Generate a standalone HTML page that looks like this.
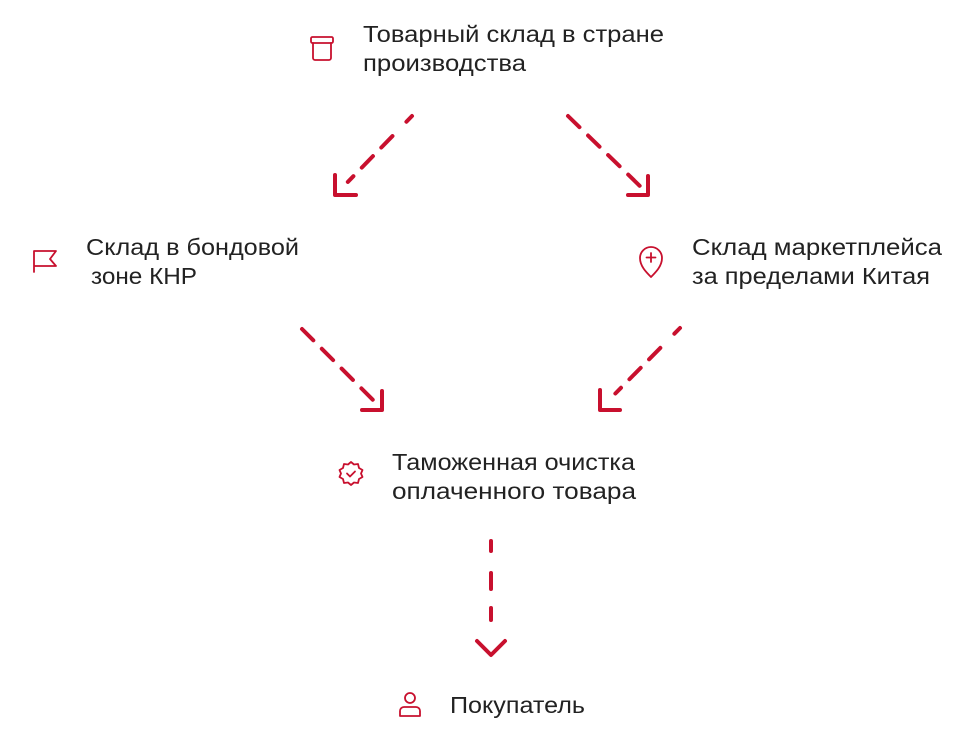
<!DOCTYPE html>
<html><head><meta charset="utf-8"><style>
html,body{margin:0;padding:0;background:#fff;}
svg{display:block}
text{font-family:"Liberation Sans","DejaVu Sans",sans-serif;font-size:23px;fill:#222;}
</style></head><body>
<svg width="974" height="740" viewBox="0 0 974 740" xmlns="http://www.w3.org/2000/svg">
<g stroke="#c8102e" stroke-width="4" fill="none" stroke-linecap="round" stroke-linejoin="round">
  <line x1="412" y1="116" x2="339" y2="191" stroke-dasharray="8 20 16 12 16 12"/>
  <polyline points="335,175 335,195 356,195"/>
  <line x1="568" y1="116" x2="644" y2="190" stroke-dasharray="16 12"/>
  <polyline points="648,176 648,195 628,195"/>
  <line x1="302" y1="329" x2="378" y2="405" stroke-dasharray="16 12"/>
  <polyline points="382,391 382,410 362,410"/>
  <line x1="680" y1="328" x2="604" y2="405" stroke-dasharray="8 20 16 12 16 12"/>
  <polyline points="600,390 600,410 620,410"/>
  <line x1="491" y1="541" x2="491" y2="626" stroke-dasharray="10 22 16 19 12 100"/>
  <polyline points="477,641 491,655 505,641"/>
</g>
<g stroke="#c8102e" stroke-width="1.8" fill="none" stroke-linecap="round" stroke-linejoin="round">
  <rect x="311" y="37" width="22" height="6" rx="1.5"/>
  <path d="M313,43 V58 a2,2 0 0 0 2,2 H329 a2,2 0 0 0 2,-2 V43"/>
  <path d="M34,272 V251 H56 L50,259 L56,266 H34"/>
  <path d="M651,277 C646,272 640,266 640,258 a11,11 0 0 1 22,0 C662,266 656,272 651,277 Z"/>
  <path d="M651,253 v9 M646.5,257.5 h9"/>
  <path d="M351,462 l3,2.5 4,-0.5 1,4 3.5,2 -1.5,3.5 1.5,3.5 -3.5,2 -1,4 -4,-0.5 -3,2.5 -3,-2.5 -4,0.5 -1,-4 -3.5,-2 1.5,-3.5 -1.5,-3.5 3.5,-2 1,-4 4,0.5 Z"/>
  <path d="M347,473.5 l3,3 5,-5"/>
  <circle cx="410" cy="698" r="5"/>
  <path d="M400,716 V711 a4,4 0 0 1 4,-4 H416 a4,4 0 0 1 4,4 V716 Z"/>
</g>
<text x="363" y="42" textLength="301" lengthAdjust="spacingAndGlyphs">Товарный склад в стране</text>
<text x="363" y="71" textLength="163" lengthAdjust="spacingAndGlyphs">производства</text>
<text x="86" y="255" textLength="213" lengthAdjust="spacingAndGlyphs">Склад в бондовой</text>
<text x="91" y="284" textLength="106" lengthAdjust="spacingAndGlyphs">зоне КНР</text>
<text x="692" y="255" textLength="250" lengthAdjust="spacingAndGlyphs">Склад маркетплейса</text>
<text x="692" y="284" textLength="238" lengthAdjust="spacingAndGlyphs">за пределами Китая</text>
<text x="392" y="470" textLength="243" lengthAdjust="spacingAndGlyphs">Таможенная очистка</text>
<text x="392" y="499" textLength="244" lengthAdjust="spacingAndGlyphs">оплаченного товара</text>
<text x="450" y="713" textLength="135" lengthAdjust="spacingAndGlyphs">Покупатель</text>
</svg>
</body></html>
